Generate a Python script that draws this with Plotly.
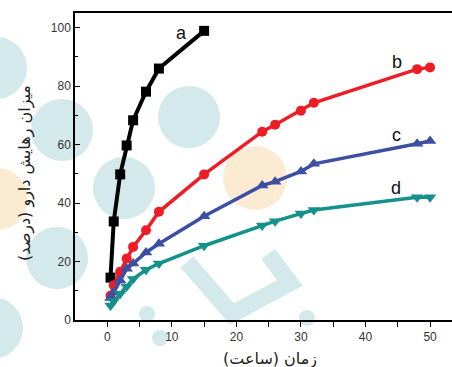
import plotly.graph_objects as go

# Data
x_a = [0.5, 1, 2, 3, 4, 6, 8, 15]
y_a = [14.5, 33.7, 49.8, 59.7, 68.3, 78.1, 86.0, 98.9]

x_t = [0.5, 1, 2, 3, 4, 6, 8, 15, 24, 26, 30, 32, 48, 50]
y_b = [8.3, 11.9, 16.5, 21.0, 25.0, 30.7, 37.0, 49.8, 64.4, 66.8, 71.6, 74.3, 85.8, 86.4]
y_c = [7.5, 9.5, 13.5, 17.5, 19.3, 23.1, 26.1, 35.5, 46.0, 47.3, 50.8, 53.4, 60.3, 61.2]
y_d = [5.0, 6.5, 9.0, 11.5, 14.0, 17.2, 19.3, 25.4, 32.3, 33.8, 36.4, 37.6, 42.0, 42.0]

series_names = ["a", "b", "c", "d"]
label_x = [11.5, 44.9, 44.8, 44.8]
label_y = [98.3, 88.3, 63.4, 45.1]

x_ticks = [0, 10, 20, 30, 40, 50]
y_ticks = [0, 20, 40, 60, 80, 100]

x_title = "زمان (ساعت)"
y_title = "میزان رهایش دارو (درصد)"

colors = ["#000000", "#ee1c25", "#3c4fa2", "#14918b"]

W, H = 452, 367
L, R, T, B = 75, 0, 13, 47
pw, ph = W - L - R, H - T - B


def px(xp):
    return (xp - L) / pw


def py(yp):
    return (H - B - yp) / ph


fig = go.Figure()

fig.add_trace(go.Scatter(x=x_a, y=y_a, mode="lines+markers", name="a",
                         line=dict(color=colors[0], width=4),
                         marker=dict(symbol="square", size=10, color=colors[0])))
fig.add_trace(go.Scatter(x=x_t, y=y_b, mode="lines+markers", name="b",
                         line=dict(color=colors[1], width=3.5),
                         marker=dict(symbol="circle", size=10, color=colors[1])))
fig.add_trace(go.Scatter(x=x_t, y=y_c, mode="lines+markers", name="c",
                         line=dict(color=colors[2], width=3.5),
                         marker=dict(symbol="triangle-up", size=11, color=colors[2])))
fig.add_trace(go.Scatter(x=x_t, y=y_d, mode="lines+markers", name="d",
                         line=dict(color=colors[3], width=3.5),
                         marker=dict(symbol="triangle-down", size=11, color=colors[3])))

# watermark decoration (background)
teal = "#d3e9ec"
orange = "#fcebd3"
circles = [(-4, 68, 31, teal), (62, 130, 31, teal), (189, 117, 31, teal),
           (124, 188, 31, teal), (-3, 199, 31, orange), (255, 178, 32, orange),
           (57, 258, 31, teal), (-8, 328, 31, teal),
           (147, 314, 8, teal), (307, 318, 8, teal), (160, 338, 8, teal)]
shapes = []
for cx, cy, r, col in circles:
    shapes.append(dict(type="circle", xref="paper", yref="paper", layer="below",
                       x0=px(cx - r), x1=px(cx + r), y0=py(cy + r), y1=py(cy - r),
                       fillcolor=col, line=dict(width=0)))
pts = [(187, 262), (232, 314), (290, 283), (268, 254)]
path = "M " + " L ".join(f"{px(a):.4f},{py(b):.4f}" for a, b in pts)
shapes.append(dict(type="path", xref="paper", yref="paper", layer="below", path=path,
                   line=dict(color=teal, width=17)))

annotations = []
for n, lx, ly in zip(series_names, label_x, label_y):
    annotations.append(dict(x=lx, y=ly, text=n, showarrow=False,
                            font=dict(family="Liberation Sans, Arial", size=18, color="#111")))
annotations.append(dict(xref="paper", yref="paper", x=px(270), y=py(358.5), text=x_title,
                        showarrow=False, xanchor="center", yanchor="middle",
                        font=dict(family="DejaVu Sans, Noto Sans", size=16, color="#222")))
annotations.append(dict(xref="paper", yref="paper", x=px(25), y=py(173), text=y_title,
                        textangle=-90, showarrow=False, xanchor="center", yanchor="middle",
                        font=dict(family="DejaVu Sans, Noto Sans", size=16, color="#222")))

fig.update_layout(
    width=W, height=H,
    margin=dict(l=L, r=R, t=T, b=B),
    paper_bgcolor="white", plot_bgcolor="white",
    showlegend=False,
    shapes=shapes, annotations=annotations,
    font=dict(family="Liberation Sans, Arial", size=12, color="#333"),
    xaxis=dict(range=[-5, 53.4], tickvals=x_ticks, ticks="outside", ticklen=5, tickwidth=1.2,
               tickcolor="#000", showline=True, linecolor="#000", linewidth=1.5, mirror=True,
               showgrid=False, zeroline=False,
               minor=dict(tickvals=[5, 15, 25, 35, 45], ticks="outside", ticklen=5, tickcolor="#000")),
    yaxis=dict(range=[0, 105], tickvals=y_ticks, ticks="inside", ticklen=5, tickwidth=1.2,
               tickcolor="#000", showline=True, linecolor="#000", linewidth=1.5, mirror=False,
               showgrid=False, zeroline=False,
               minor=dict(tickvals=[10, 30, 50, 70, 90], ticks="inside", ticklen=3, tickcolor="#000")),
)

fig.write_html("out.html", config={"displayModeBar": False},
               post_script="document.body.style.margin='0px';")
